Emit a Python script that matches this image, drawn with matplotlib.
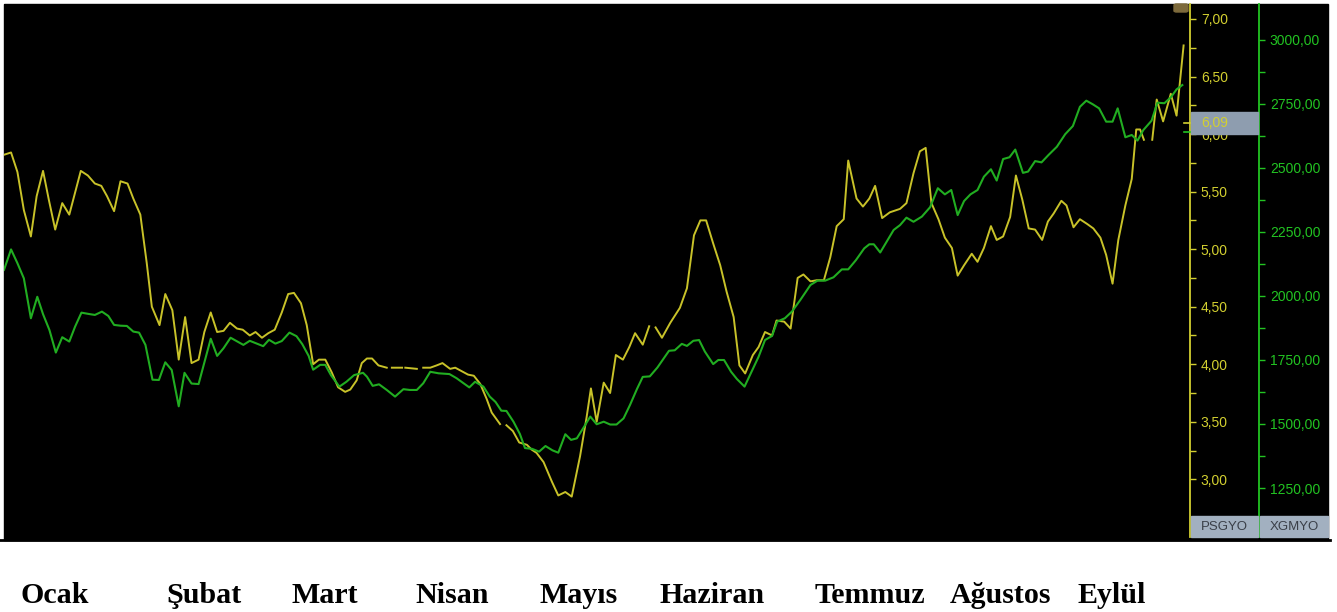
import matplotlib
matplotlib.use("Agg")
import matplotlib.pyplot as plt
from matplotlib.patches import Rectangle, FancyBboxPatch
from matplotlib.lines import Line2D
from matplotlib.ticker import FixedLocator, FuncFormatter
import numpy as np

nan = np.nan

# PSGYO (left scale, yellow) - trading day index / price
psgyo_day = [0.0, 1.1, 2.1, 3.1, 4.2, 5.1, 6.1, 7.0, 8.0, 9.1,
             10.2, 11.1, 12.0, 13.1, 14.2, 15.2, 16.1, 17.2, 18.2, 19.3,
             20.2, 21.3, 22.3, 23.1, 24.3, 25.2, 26.3, 27.3, 28.3, 29.3,
             30.4, 31.3, 32.3, 33.3, 34.3, 35.3, 36.4, 37.3, 38.4, 39.3,
             40.3, 41.3, 42.3, 43.4, 44.4, 45.3, 46.4, 47.3, 48.3, 49.2,
             50.2, 51.2, 52.2, 53.3, 54.1, 55.1, 55.9, 56.7, 57.5, 58.5,
             59.8, 60.2, 60.6, 62.2, 62.4, 62.7, 64.5, 65.0, 65.5, 66.6,
             67.6, 68.5, 69.7, 70.5, 71.5, 72.5, 73.4, 74.4, 75.4, 76.2,
             77.5, 78.0, 78.5, 79.5, 80.5, 81.7, 82.4, 83.2, 84.3, 85.6,
             86.6, 87.7, 88.7, 90.0, 91.0, 91.7, 92.6, 93.7, 94.7, 95.6,
             96.7, 97.7, 98.6, 99.8, 100.8, 101.3, 101.8, 102.8, 104.1, 105.6,
             106.7, 107.8, 108.8, 109.7, 110.8, 111.9, 112.9, 114.0, 114.9, 115.8,
             117.0, 117.9, 118.9, 120.0, 120.7, 121.9, 122.9, 124.0, 124.9, 126.0,
             127.0, 128.1, 129.1, 130.1, 131.2, 131.9, 133.2, 134.2, 135.2, 136.1,
             137.2, 138.4, 140.0, 141.0, 142.1, 143.1, 144.0, 144.9, 146.0, 147.0,
             148.1, 149.0, 150.0, 151.2, 152.1, 153.1, 154.2, 155.1, 156.1, 157.2,
             158.1, 159.1, 160.1, 161.1, 162.2, 163.1, 164.0, 165.2, 166.0, 167.1,
             168.1, 169.2, 170.2, 171.3, 172.2, 173.2, 174.1, 175.2, 176.2, 176.9,
             177.5, 178.1, 178.7, 179.4, 180.1, 181.1, 182.3, 183.2, 184.3]
psgyo = [5.82, 5.84, 5.67, 5.34, 5.11, 5.46, 5.68, 5.43, 5.17, 5.40,
         5.30, 5.49, 5.68, 5.64, 5.57, 5.55, 5.46, 5.33, 5.59, 5.57,
         5.44, 5.30, 4.88, 4.50, 4.34, 4.61, 4.47, 4.04, 4.41, 4.01,
         4.04, 4.28, 4.45, 4.28, 4.29, 4.36, 4.31, 4.30, 4.25, 4.28,
         4.23, 4.27, 4.30, 4.45, 4.61, 4.62, 4.53, 4.34, 4.00, 4.04,
         4.04, 3.93, 3.80, 3.76, 3.78, 3.86, 4.01, 4.05, 4.05, 3.99,
         3.97, nan, 3.97, 3.97, nan, 3.97, 3.96, nan, 3.97, 3.97,
         3.99, 4.01, 3.96, 3.97, 3.94, 3.91, 3.90, 3.83, 3.70, 3.58,
         3.48, nan, 3.47, 3.42, 3.32, 3.30, 3.26, 3.23, 3.15, 2.98,
         2.86, 2.89, 2.85, 3.20, 3.53, 3.79, 3.50, 3.84, 3.75, 4.08,
         4.04, 4.15, 4.27, 4.17, 4.33, nan, 4.32, 4.23, 4.36, 4.49,
         4.66, 5.12, 5.25, 5.25, 5.05, 4.86, 4.63, 4.41, 3.99, 3.92,
         4.08, 4.15, 4.28, 4.25, 4.38, 4.37, 4.31, 4.75, 4.78, 4.72,
         4.73, 4.73, 4.93, 5.20, 5.26, 5.77, 5.44, 5.37, 5.44, 5.55,
         5.27, 5.32, 5.35, 5.40, 5.66, 5.85, 5.88, 5.40, 5.26, 5.10,
         5.01, 4.77, 4.86, 4.96, 4.89, 5.01, 5.20, 5.08, 5.11, 5.28,
         5.64, 5.43, 5.18, 5.17, 5.08, 5.24, 5.31, 5.42, 5.38, 5.19,
         5.26, 5.22, 5.18, 5.10, 4.95, 4.70, 5.08, 5.38, 5.61, 6.04,
         6.04, 5.95, nan, 5.95, 6.30, 6.11, 6.35, 6.16, 6.77]

# XGMYO (right scale, green) - trading day index / index level
xgmyo_day = [0.0, 1.1, 2.1, 3.1, 4.2, 5.2, 6.1, 7.1, 8.1, 9.1,
             10.2, 11.1, 12.1, 13.2, 14.2, 15.3, 16.3, 17.2, 18.2, 19.2,
             20.2, 21.1, 22.1, 23.2, 24.2, 25.2, 26.2, 27.3, 28.2, 29.3,
             30.4, 31.3, 32.3, 33.3, 34.3, 35.4, 36.4, 37.4, 38.4, 39.5,
             40.5, 41.4, 42.4, 43.4, 44.6, 45.7, 46.6, 47.6, 48.3, 49.4,
             50.2, 51.1, 52.4, 53.5, 54.7, 56.1, 56.7, 57.6, 58.6, 59.8,
             61.1, 62.4, 63.4, 64.5, 65.5, 66.6, 67.9, 69.6, 70.7, 71.8,
             72.7, 73.6, 74.9, 75.9, 76.8, 77.7, 78.5, 79.6, 80.6, 81.4,
             82.5, 83.6, 84.6, 85.7, 86.6, 87.7, 88.6, 89.5, 90.6, 91.6,
             92.6, 93.7, 94.7, 95.7, 96.8, 97.8, 98.9, 99.8, 100.9, 102.1,
             102.9, 103.9, 104.8, 105.9, 106.7, 107.7, 108.6, 109.5, 110.8, 111.6,
             112.5, 113.6, 114.5, 115.7, 116.8, 117.9, 118.9, 120.0, 120.8, 122.0,
             123.1, 124.4, 126.0, 127.1, 128.3, 129.6, 130.9, 131.9, 133.1, 134.4,
             135.2, 135.9, 136.9, 137.9, 139.0, 140.0, 141.0, 142.1, 143.4, 144.7,
             145.9, 147.0, 148.0, 149.0, 150.0, 151.0, 152.1, 153.1, 154.2, 155.1,
             156.1, 157.1, 158.0, 159.2, 160.0, 161.1, 162.1, 163.2, 164.5, 165.8,
             167.0, 168.1, 169.1, 170.1, 171.1, 172.2, 173.2, 174.0, 175.2, 176.2,
             177.1, 178.0, 179.3, 180.2, 181.3, 182.3, 183.2, 184.1]
xgmyo = [2102, 2182, 2128, 2069, 1913, 1997, 1929, 1867, 1779, 1839,
         1822, 1880, 1935, 1930, 1926, 1939, 1922, 1887, 1884, 1883,
         1861, 1857, 1809, 1673, 1672, 1741, 1711, 1569, 1700, 1658,
         1656, 1740, 1833, 1766, 1796, 1837, 1823, 1809, 1825, 1814,
         1804, 1829, 1814, 1824, 1857, 1843, 1812, 1766, 1712, 1731,
         1731, 1690, 1646, 1665, 1691, 1700, 1685, 1649, 1655, 1633,
         1607, 1636, 1633, 1633, 1659, 1704, 1698, 1695, 1679, 1659,
         1643, 1665, 1646, 1607, 1586, 1552, 1551, 1509, 1461, 1406,
         1403, 1392, 1414, 1397, 1388, 1460, 1438, 1444, 1488, 1529,
         1499, 1509, 1498, 1498, 1522, 1574, 1637, 1684, 1686, 1721,
         1750, 1786, 1788, 1813, 1805, 1825, 1828, 1783, 1734, 1750,
         1750, 1704, 1676, 1646, 1704, 1763, 1828, 1844, 1900, 1913,
         1939, 1984, 2043, 2060, 2060, 2073, 2104, 2104, 2140, 2186,
         2202, 2202, 2170, 2212, 2258, 2277, 2306, 2290, 2310, 2347,
         2421, 2397, 2414, 2316, 2371, 2397, 2414, 2466, 2495, 2451,
         2535, 2542, 2572, 2481, 2486, 2527, 2522, 2551, 2583, 2632,
         2664, 2739, 2763, 2749, 2733, 2681, 2681, 2733, 2620, 2629,
         2607, 2648, 2685, 2755, 2753, 2776, 2807, 2824]

psgyo_ticks = [3.0, 3.5, 4.0, 4.5, 5.0, 5.5, 6.0, 6.5, 7.0]
xgmyo_ticks = [1250, 1500, 1750, 2000, 2250, 2500, 2750, 3000]
last_price = "6,09"
months = ["Ocak", "Şubat", "Mart", "Nisan", "Mayıs",
          "Haziran", "Temmuz", "Ağustos", "Eylül"]

W, H = 1337, 612
YEL_LINE = "#c8c229"
YEL_TXT = "#d2cf30"
GRN_LINE = "#21ad21"
GRN_TXT = "#22c322"
BOX = "#8e9daf"


def fx(px):
    return px / W


def fy(py):
    return 1 - py / H


def comma(v, pos=None):
    return f"{v:.2f}".replace(".", ",")


fig = plt.figure(figsize=(W / 100, H / 100), dpi=100)
fig.patch.set_facecolor("white")

# black chart panel incl. the two scale strips
fig.patches.append(Rectangle((fx(4), fy(540)), fx(1328 - 4), (540 - 4) / H,
                             transform=fig.transFigure, color="black", zorder=-5))
fig.lines.append(Line2D([0, fx(1330)], [fy(540), fy(540)], transform=fig.transFigure,
                        color="black", lw=2, zorder=-4))

ax = fig.add_axes([fx(4), fy(537), fx(1190 - 4), (537 - 4) / H])
ax.set_facecolor("black")
ax2 = ax.twinx()
ax2.patch.set_visible(False)

ax.plot(psgyo_day, psgyo, color=YEL_LINE, lw=1.4, zorder=3)
ax2.plot(xgmyo_day, xgmyo, color=GRN_LINE, lw=1.5, zorder=2)

ax.set_xlim(0, 185.3)
ax.set_ylim(2.499, 7.13)
ax2.set_ylim(1058.6, 3140.6)
ax.set_xticks([])

for a in (ax, ax2):
    for s in ("top", "bottom", "left"):
        a.spines[s].set_visible(False)

ax.yaxis.tick_right()
ax.spines["right"].set_color(YEL_TXT)
ax.spines["right"].set_linewidth(1.3)
ax.yaxis.set_major_locator(FixedLocator(psgyo_ticks))
ax.yaxis.set_minor_locator(FixedLocator([3.25, 3.75, 4.25, 4.75, 5.25, 5.75, 6.25, 6.75]))
ax.yaxis.set_major_formatter(FuncFormatter(comma))
ax.tick_params(axis="y", which="both", colors=YEL_TXT, length=4.3, width=1,
               pad=3.5, labelsize=10, direction="out")

ax2.spines["right"].set_position(("outward", 49.7))
ax2.spines["right"].set_color(GRN_TXT)
ax2.spines["right"].set_linewidth(1.3)
ax2.yaxis.set_major_locator(FixedLocator(xgmyo_ticks))
ax2.yaxis.set_minor_locator(FixedLocator([1375, 1625, 1875, 2125, 2375, 2625, 2875]))
ax2.yaxis.set_major_formatter(FuncFormatter(comma))
ax2.tick_params(axis="y", which="both", colors=GRN_TXT, length=4.3, width=1,
                pad=3.5, labelsize=10, direction="out")

for lab in ax.get_yticklabels() + ax2.get_yticklabels():
    lab.set_family("Liberation Sans")

# last value box
fig.patches.append(Rectangle((fx(1191), fy(134)), fx(1258 - 1191), 22 / H,
                             transform=fig.transFigure, color=BOX, zorder=5))
fig.text(fx(1201), fy(123), last_price, color=YEL_TXT, fontsize=10,
         family="Liberation Sans", va="center", ha="left", zorder=6)
fig.lines.append(Line2D([fx(1184), fx(1190)], [fy(123), fy(123)],
                        transform=fig.transFigure, color=YEL_TXT, lw=1.2, zorder=6))
fig.lines.append(Line2D([fx(1184), fx(1190)], [fy(132), fy(132)],
                        transform=fig.transFigure, color=GRN_TXT, lw=1.2, zorder=6))

# series name boxes
for x0, x1, name in [(1191, 1258, "PSGYO"), (1260, 1328, "XGMYO")]:
    fig.patches.append(Rectangle((fx(x0), fy(537)), fx(x1 - x0), 21 / H,
                                 transform=fig.transFigure, color="#a2b0c0", zorder=5))
    fig.text(fx((x0 + x1) / 2), fy(526.5), name, color="#3a3f48", fontsize=9.5,
             family="Liberation Sans", ha="center", va="center", zorder=6)

# small pause icon
fig.patches.append(FancyBboxPatch((fx(1174), fy(12)), fx(14), 8 / H,
                                  boxstyle="round,pad=0,rounding_size=0.002",
                                  transform=fig.transFigure, color="#7d6a3c", zorder=5))

# month labels
month_x = [20, 166, 292, 415, 540, 660, 815, 950, 1078]
for mx, m in zip(month_x, months):
    fig.text(fx(mx), fy(603), m, fontsize=21.6, fontweight="bold",
             family="Liberation Serif", ha="left", va="baseline", color="black")

fig.savefig("out.png", dpi=100, facecolor="white")
